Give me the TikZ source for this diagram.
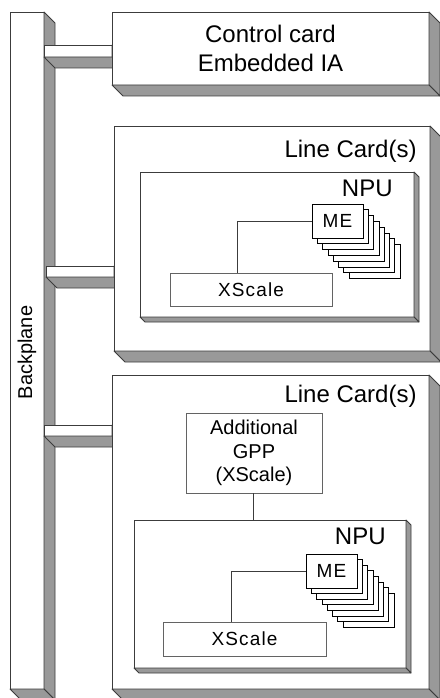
\documentclass[tikz,border=0pt]{standalone}
\usepackage{fontspec}
\setmainfont{Liberation Sans}
\newfontfamily\spacedfont[LetterSpace=6]{Liberation Sans}
\usetikzlibrary{positioning}
\definecolor{facegray}{RGB}{153,153,153}
\definecolor{edgegray}{RGB}{60,60,60}

% right and bottom faces of a raised box
\newcommand\extrude[2]{%
  \filldraw[face] (#1.north east) -- ++(#2,#2) -- ([shift={(#2,#2)}]#1.south east) -- (#1.south east) -- cycle;
  \filldraw[face] (#1.south west) -- ++(#2,#2) -- ([shift={(#2,#2)}]#1.south east) -- (#1.south east) -- cycle;}

\begin{document}
\begin{tikzpicture}[
    x=1pt, y=-1pt, line width=0.8pt,
    card/.style={draw=edgegray, fill=white, anchor=north west, inner sep=0pt, outer sep=0pt},
    face/.style={draw=edgegray, fill=facegray, line join=round},
    chip/.style={draw=black, fill=white, anchor=north west, inner sep=0pt, outer sep=0pt,
      minimum width=51, minimum height=34, font=\spacedfont\fontsize{19}{23}\selectfont},
    big/.style={inner sep=0pt, font=\fontsize{24}{29}\selectfont},
    wire/.style={draw=edgegray, line width=0.7pt}
  ]
  \useasboundingbox (0,0) rectangle (439,698);

  % backplane and its links
  \node[card, minimum width=34, minimum height=677] (bp) at (10,12) {};
  \extrude{bp}{11}
  \node[rotate=90, font=\fontsize{20}{24}\selectfont] at ([yshift=-2]bp.center) {Backplane};
  \node[card, minimum width=68, minimum height=12] (bar1) at (44,45) {};
  \extrude{bar1}{11}
  \node[card, minimum width=68, minimum height=11] (bar2) at (46,266) {};
  \extrude{bar2}{11}
  \node[card, minimum width=68, minimum height=11] (bar3) at (44,425) {};
  \extrude{bar3}{11}

  % control card
  \node[card, minimum width=317, minimum height=73, align=center, font=\fontsize{24}{29}\selectfont]
    (ctrl) at (112,12) {Control card\\Embedded IA};
  \extrude{ctrl}{11}

  % first line card
  \node[card, minimum width=316, minimum height=225] (lc1) at (114,126) {};
  \extrude{lc1}{11}
  \node[big, anchor=north east] (lc1t) at ([shift={(-13,14)}]lc1.north east) {Line Card(s)};
  \node[card, minimum width=274, minimum height=145] (npu1) at (140,172) {};
  \extrude{npu1}{5}
  \node[big, anchor=north east] (npu1t) at ([shift={(-21,8)}]npu1.north east) {NPU};
  \node[card, draw=edgegray!80, minimum width=162, minimum height=33, font=\spacedfont\fontsize{19}{23}\selectfont]
    (xs1) at (170,273) {XScale};
  \foreach \i in {7,...,1}
    \node[chip] (me1-\i) at ({312+5.3*\i},{204+5.8*\i}) {};
  \node[chip] (me1) at (312,204) {ME};
  \draw[wire] ([xshift=67]xs1.north west) |- (me1.west);

  % second line card
  \node[card, minimum width=317, minimum height=314] (lc2) at (112,375) {};
  \extrude{lc2}{11}
  \node[big, anchor=north east] (lc2t) at ([shift={(-12,10)}]lc2.north east) {Line Card(s)};
  \node[card, draw=edgegray!80, minimum width=136, minimum height=80, align=center,
    font=\fontsize{20}{23.5}\selectfont] (gpp) at (186,413) {Additional\\GPP\\(XScale)};
  \node[card, minimum width=272, minimum height=148] (npu2) at (134,520) {};
  \extrude{npu2}{5}
  \node[big, anchor=north east] (npu2t) at ([shift={(-20,8)}]npu2.north east) {NPU};
  \draw[wire] ([xshift=67]gpp.south west) -- ([xshift=67]gpp.south west |- npu2.north);
  \node[card, draw=edgegray!80, minimum width=163, minimum height=34, font=\spacedfont\fontsize{19}{23}\selectfont]
    (xs2) at (163,622) {XScale};
  \foreach \i in {7,...,1}
    \node[chip] (me2-\i) at ({306+5.3*\i},{554+5.6*\i}) {};
  \node[chip] (me2) at (306,554) {ME};
  \draw[wire] ([xshift=68]xs2.north west) |- (me2.west);
\end{tikzpicture}
\end{document}
